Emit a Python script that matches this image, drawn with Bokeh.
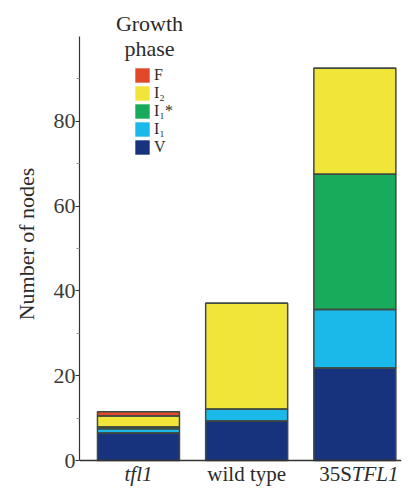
from bokeh.plotting import figure
from bokeh.models import (ColumnDataSource, Range1d, FixedTicker, Legend, LegendItem, Label, Span)
from bokeh.embed import file_html
from bokeh.resources import INLINE

# ---- data ----
categories = ["tfl1", "wild type", "35STFL1"]
x_pos = [0, 1, 2]
phases = ["V", "I1", "I1s", "I2", "F"]
phase_labels = ["V", "I\u2081", "I\u2081*", "I\u2082", "F"]
V = [6.5, 9.3, 21.8]
I1 = [1.0, 2.8, 13.8]
I1s = [0.4, 0.0, 31.9]
I2 = [2.6, 25.0, 25.0]
F = [1.0, 0.0, 0.0]
colors = ["#17337e", "#1bb9ea", "#17ab5b", "#f1e53a", "#e2492b"]
y_ticks = [0, 20, 40, 60, 80]
y_minor = [10, 30, 50, 70, 90]
y_axis_max = 100

source = ColumnDataSource(dict(x=x_pos, V=V, I1=I1, I1s=I1s, I2=I2, F=F))

FONT = "Liberation Serif"
TXT = "#2b2b2b"

# layout constants (pixels)
H = 487
PX_PER_UNIT = 4.24
ZERO_PX = 460       # canvas row of y = 0
top_val = y_axis_max + 36 / PX_PER_UNIT
bot_val = -(H - ZERO_PX) / PX_PER_UNIT

p = figure(width=405, height=H, output_backend="svg", toolbar_location=None,
           x_range=Range1d(-0.545, 2.431), y_range=Range1d(bot_val, top_val),
           min_border_left=79, min_border_right=4, min_border_top=0, min_border_bottom=0)
p.outline_line_color = None
p.xgrid.visible = False
p.ygrid.visible = False
p.xaxis.visible = False
p.background_fill_color = "white"

bar_w = 0.758
fills = p.vbar_stack(phases, x="x", width=bar_w, color=colors, line_color=None, source=source)
p.vbar_stack(phases, x="x", width=bar_w, fill_alpha=0, line_color="#3f4a40",
             line_width=1.5, source=source)

# baseline
p.add_layout(Span(location=0, dimension="width", line_color="#333333", line_width=1.3))

items = [LegendItem(label=lab, renderers=[r]) for lab, r in zip(phase_labels, fills)]
items.reverse()
legend = Legend(items=items, location=(54, H - 156), padding=0, margin=0, spacing=0,
                glyph_height=18, glyph_width=18, label_height=18, label_standoff=3,
                border_line_alpha=0, background_fill_alpha=0,
                label_text_font=FONT, label_text_font_size="16px", label_text_color=TXT)
p.add_layout(legend, "center")

for t, yy in (("Growth", H - 23), ("phase", H - 48)):
    p.add_layout(Label(x=70, y=yy, x_units="screen", y_units="screen", text=t,
                       text_align="center", text_baseline="alphabetic",
                       text_font=FONT, text_font_size="22px", text_color=TXT))

# y axis
ya = p.yaxis[0]
ya.bounds = (0, y_axis_max)
ya.ticker = FixedTicker(ticks=y_ticks, minor_ticks=y_minor)
ya.axis_label = "Number of nodes"
ya.axis_label_text_font = FONT
ya.axis_label_text_font_style = "normal"
ya.axis_label_text_font_size = "22px"
ya.axis_label_text_color = TXT
ya.axis_label_standoff = 12
ya.major_label_text_font = FONT
ya.major_label_text_font_size = "22px"
ya.major_label_text_color = "#3a3a3a"
ya.major_label_standoff = 0
ya.major_tick_out = 4
ya.major_tick_in = 0
ya.minor_tick_out = 3
ya.minor_tick_in = 0
ya.axis_line_color = "#333333"
ya.major_tick_line_color = "#333333"
ya.minor_tick_line_color = "#999999"
ya.axis_line_width = 1.2

lab_kw = dict(y=0, y_offset=-13, text_baseline="alphabetic", text_font=FONT,
              text_font_size="21px", text_color=TXT)
p.add_layout(Label(x=x_pos[0], text=categories[0], text_align="center",
                   text_font_style="italic", **lab_kw))
p.add_layout(Label(x=x_pos[1], text=categories[1], text_align="center", **lab_kw))
p.add_layout(Label(x=x_pos[2], text=categories[2][:3], text_align="right",
                   x_offset=-3, **lab_kw))
p.add_layout(Label(x=x_pos[2], text=categories[2][3:], text_align="left",
                   x_offset=-3, text_font_style="italic", **lab_kw))

open("out.html", "w").write(file_html(p, INLINE))
